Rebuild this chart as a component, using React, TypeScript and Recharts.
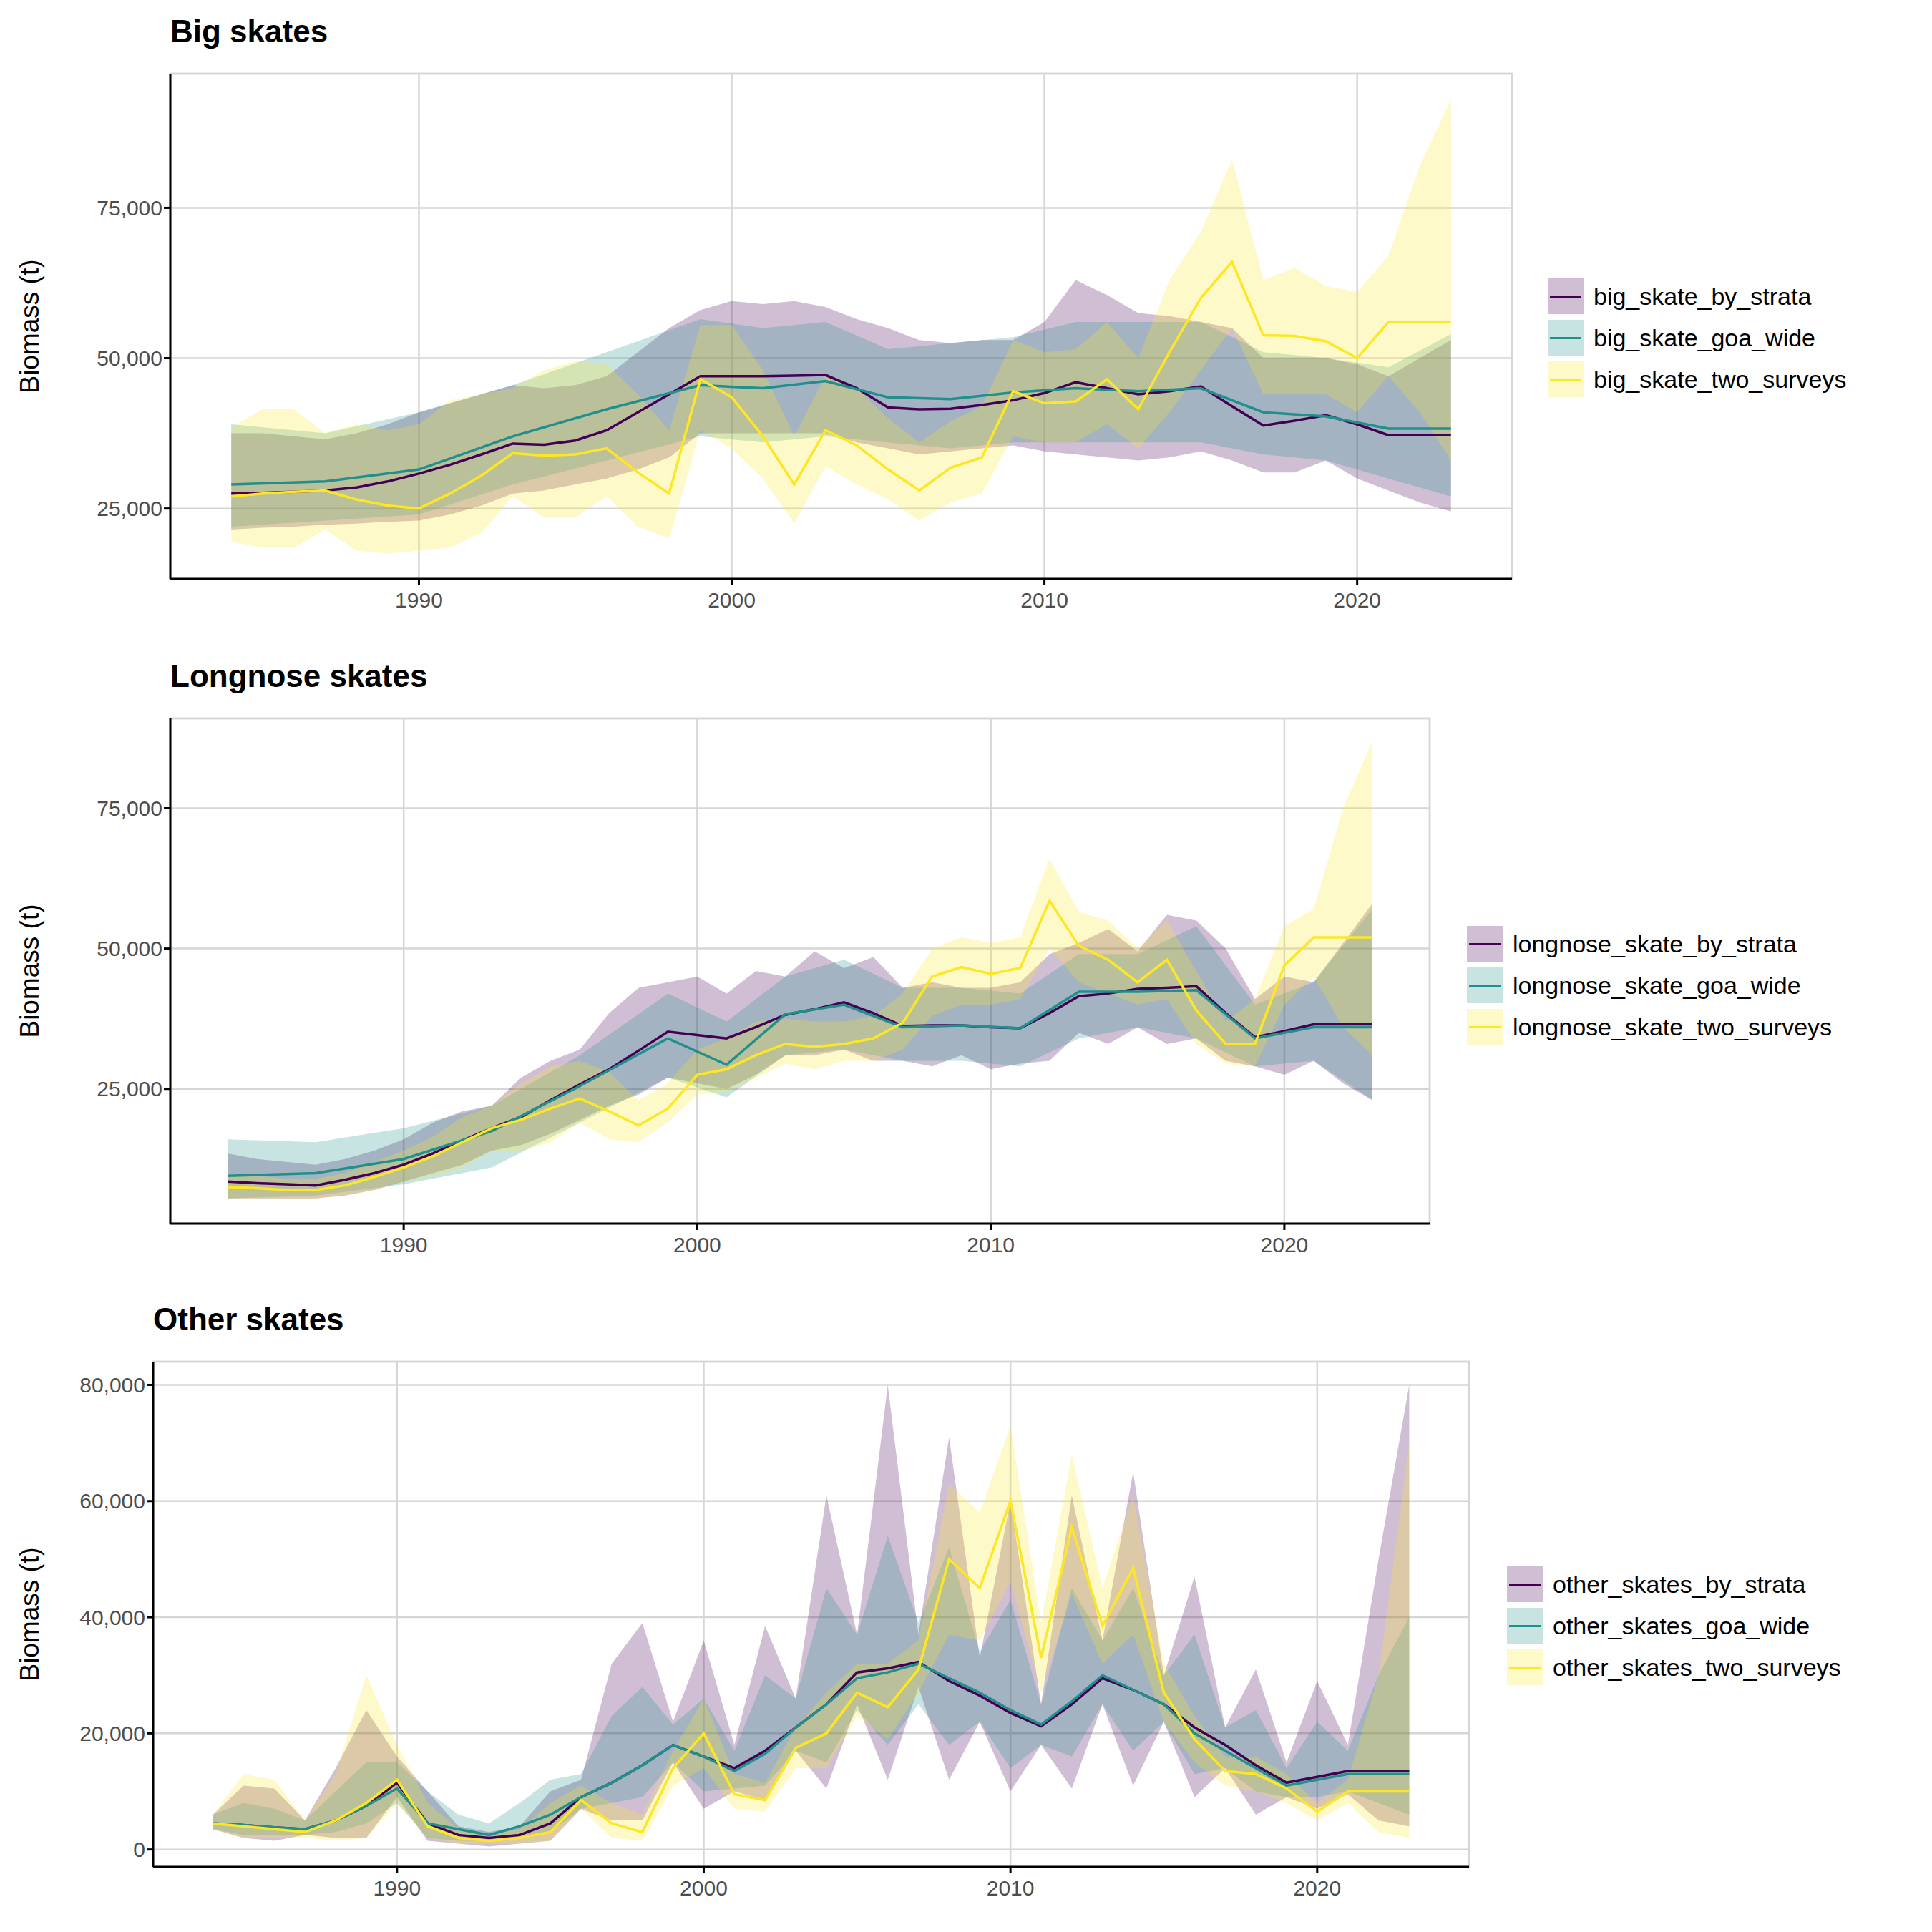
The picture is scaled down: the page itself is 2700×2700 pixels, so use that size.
import React from "react";
import { ComposedChart, Area, Line, XAxis, YAxis, CartesianGrid, ReferenceArea } from "recharts";

const years = Array.from({ length: 40 }, (_, i) => 1984 + i);
const surveyYears = [1984, 1987, 1990, 1993, 1996, 1999, 2001, 2003, 2005, 2007, 2009, 2011, 2013, 2015, 2017, 2019, 2021, 2023];

// Big skates (thousand t)
const bigStrata = [27.5,27.6,27.8,28,28.5,29.5,30.8,32.3,34,35.8,35.6,36.3,38,41,44,47,47,47,47.1,47.2,45,41.8,41.5,41.6,42.2,43,44.2,46,45,44,44.5,45.3,42,38.8,39.6,40.5,39,37.2,37.2,37.2];
const bigStrataLo = [21.5,21.8,22,22.3,22.5,22.8,23,24,25.5,27.5,28,29,30,31.5,33.5,37.5,37.5,37.5,37.5,37.5,36,35,34,34.5,35,35.5,34.5,34,33.5,33,33.5,34.5,33,31,31,33,30,28,26,24.5];
const bigStrataHi = [37.5,37.5,37,36.5,37.5,39,41,42.5,44,45.5,45,45.5,47,51,55,58,59.5,59,59.5,58.5,56.5,55,53,52.5,53,53,56,63,60.5,57.5,57,56,55,50,50,50,49,47,50,53];
const bigGoa = [29,29.5,31.5,37,41.5,45.5,45,46.2,43.5,43.2,44.3,45,44.5,45,41,40.3,38.3,38.3];
const bigGoaLo = [22,23,24,29,33,37,36,37,36,35,36,36,36,36,34,33,30,27];
const bigGoaHi = [39,37.5,41,45.5,51,56.5,55,56,51.5,52.5,53.5,56,56,56,51,50,48.5,54];
const bigTwo = [27,27.5,27.8,28,26.5,25.5,25,27.5,30.5,34.2,33.8,34,35,31,27.5,46.5,43.5,37,29,38,35.5,31.5,28,31.8,33.5,44.5,42.5,42.8,46.5,41.5,51,60,66,53.8,53.7,52.8,50,56,56,56];
const bigTwoLo = [19.5,18.5,18.5,21.5,18,17.5,18,18.5,21,27,23.5,23.5,27,22,20,38,35,30,22.5,32,29,26.5,23,26,27.5,37,36,36,39,35,41,48,55,44,44,44,41,47,41,33];
const bigTwoHi = [38.5,41.5,41.5,37.5,39,38,39,43,44,45,48,49.5,49,44,38,55.5,55.5,48,37,47,45,40,36,39.5,42,53,51,51.5,56,50,63,71,83,63,65,62,61,67,82,93];

// Longnose skates
const lnStrata = [8.5,8.2,8,7.8,8.8,10,11.5,13.5,15.8,18,20,23,25.8,28.5,31.8,35.2,34.6,34,36,38.2,39.2,40.4,38.5,36.2,36.3,36.3,36,35.8,38.5,41.5,42,42.8,43,43.3,38.5,34.2,35.3,36.5,36.5,36.5];
const lnStrataLo = [5.5,5.5,5.5,5.5,6,7,8.5,10,11.5,14,15,17,19.5,22,24,27,26,25,27.5,31,31,32,30,30,29,31,28.5,29.5,30,35,33,36,33,34,30,29,27.5,30,26,23];
const lnStrataHi = [13.5,12.5,12,11.5,12.5,14,16,19,21,22,27,30,32,38.5,43,44,45,42,46,45,49.5,46.5,48.5,43,44,43,43,44,49,51,53.5,49.5,56,55,50,41,45,44,51,58];
const lnGoa = [9.5,10,12.5,17.5,25.5,34,29.3,38.3,40,36,36.3,35.8,42.3,42.3,42.6,34,36,36];
const lnGoaLo = [5.5,6,8,11,19,27,23.5,31,32,30,30,29,34,36,34,29,30,23];
const lnGoaHi = [16,15.5,18,22,31,42,37,45,48,43,43,42,49,49,54,40,44,57];
const lnTwo = [7.5,7.3,7,7,7.8,9.3,11,13,15.5,18,19.5,21.5,23.3,21,18.5,21.5,27.5,28.5,31,33,32.5,33,34,36.8,45,46.7,45.5,46.5,58.5,50.5,48,44,48,39,33,33,47,52,52,52];
const lnTwoLo = [5.5,5.5,5.5,5.5,6,7,8.5,9.5,11,14,14,15.5,19,16,15.5,19,24,24.5,27,29.5,28.5,30,30,32,38,40,40,41,50,44,42,40,41,33,29.5,29,40,45,36,31];
const lnTwoHi = [10,9.5,9,9,10,12,14,16.5,20,22,26,29,30,28,23,26,32,34,37,37.5,37,37,38,42,50,52,51,52,66,56.5,55,50,55,46,37,41,54,57,75,87];

// Other skates
const otStrata = [4.5,4.2,3.8,3.5,5,7.5,11.5,4.5,2.5,2,2.5,4.5,9,11.5,14.5,18,16,14,17,21,25,30.5,31.2,32.3,29,26.5,23.5,21.2,25,29.5,27.5,25,21,18,14.5,11.5,12.5,13.5,13.5,13.5];
const otStrataLo = [3.5,2,1.5,2.5,2,2,9,1.5,1,0.5,1,1.5,7,5,5,15,7,10,8.5,17,10.5,25,12,28,12,22,10,18,10.5,25,11,22,9,14,6,9,7,9.5,5,4];
const otStrataHi = [6,11,10.5,5,14,24,16,10,4,3,4,10,12,32,39,22,36,18,38.5,26,61,37,80,37,71,33,60,25,61,36,65,30,47,21,31,15,29,18,50,80];
const otGoa = [4.5,4.2,3.8,3.5,5,7.5,10.5,4.5,3.5,2.5,4,6,9,11.5,14.5,18,16,13.5,16.5,21,25,29.5,30.5,32,29.5,27,24,21.5,25.5,30,27.5,25,20,17,14,11,12,13,13,13];
const otGoaLo = [3.5,2.5,2.5,2.5,3,4.5,8,2,1.5,1.5,2,3,7,8,9,15,10,10.5,11,17,15,24,18,25,18,22,14,18,16,25,17,22,13,14,10,9,9,10,8,6];
const otGoaHi = [6,8,7,5,10,15,15,10,6,4.5,8,12,13,23,28,21.5,26,17,30,26,45,37,54,39,52,34,43,25,45,36,45,30,37,21,24,14,22,17,30,40];
const otTwo = [4.5,4,3.5,3,5,8,12,4,2,1.5,2,3,8.5,4.5,3,14,20,9.5,8.5,17.5,20,27,24.5,31,50,45,60,33,55.5,38.5,48.5,27,19,13.5,13,10.5,6.5,10,10,10];
const otTwoLo = [3.5,2,2,2,1.5,2,8,2,1,1,1,1.5,7,2,1.5,11,14,7,6.5,14,14,23,19,27,37,36,46,27,44,32,37,22,15,11,10,8,5,8,3,2];
const otTwoHi = [6,13,12,5,13,30,18,8,3.5,2.5,3.5,8,11,8,6,17,26,13,11.5,21,27,32,32,36,63,58,73,39,68,45,61,32,23,16,16,13,8,12,30,70];

const PURPLE = "#440154";
const TEAL = "#21908C";
const YELLOW = "#FDE725";

const build = (xs: number[], v: number[], lo: number[], hi: number[]) =>
  xs.map((x, i) => ({ x, v: v[i] * 1000, r: [lo[i] * 1000, hi[i] * 1000] }));

const fmt = (n: number) => n.toLocaleString("en-US");

type Panel = {
  title: string; names: string[]; series: { xs: number[]; v: number[]; lo: number[]; hi: number[] }[];
  left: number; right: number; top: number; bottom: number; yDomain: [number, number]; yTicks: number[];
  legendX: number; legendY: number;
};

const panels: Panel[] = [
  {
    title: "Big skates", names: ["big_skate_by_strata", "big_skate_goa_wide", "big_skate_two_surveys"],
    series: [
      { xs: years, v: bigStrata, lo: bigStrataLo, hi: bigStrataHi },
      { xs: surveyYears, v: bigGoa, lo: bigGoaLo, hi: bigGoaHi },
      { xs: years, v: bigTwo, lo: bigTwoLo, hi: bigTwoHi },
    ],
    left: 238, right: 2113, top: 103, bottom: 809, yDomain: [13300, 97300], yTicks: [25000, 50000, 75000],
    legendX: 2163, legendY: 385,
  },
  {
    title: "Longnose skates", names: ["longnose_skate_by_strata", "longnose_skate_goa_wide", "longnose_skate_two_surveys"],
    series: [
      { xs: years, v: lnStrata, lo: lnStrataLo, hi: lnStrataHi },
      { xs: surveyYears, v: lnGoa, lo: lnGoaLo, hi: lnGoaHi },
      { xs: years, v: lnTwo, lo: lnTwoLo, hi: lnTwoHi },
    ],
    left: 238, right: 1998, top: 1004, bottom: 1710, yDomain: [1000, 91000], yTicks: [25000, 50000, 75000],
    legendX: 2050, legendY: 1290,
  },
  {
    title: "Other skates", names: ["other_skates_by_strata", "other_skates_goa_wide", "other_skates_two_surveys"],
    series: [
      { xs: years, v: otStrata, lo: otStrataLo, hi: otStrataHi },
      { xs: years, v: otGoa, lo: otGoaLo, hi: otGoaHi },
      { xs: years, v: otTwo, lo: otTwoLo, hi: otTwoHi },
    ],
    left: 214, right: 2053, top: 1903, bottom: 2609, yDomain: [-3000, 84000], yTicks: [0, 20000, 40000, 60000, 80000],
    legendX: 2106, legendY: 2185,
  },
];

const colors = [PURPLE, TEAL, YELLOW];
const FONT = "Liberation Sans, Arial, sans-serif";
const XD: [number, number] = [1982.05, 2024.95];

function PanelChart({ p }: { p: Panel }) {
  const mt = 10, xh = 70;
  const h = p.bottom - p.top + mt + xh;
  const datas = p.series.map((s) => build(s.xs, s.v, s.lo, s.hi));
  return (
    <div style={{ position: "absolute", left: 0, top: p.top - mt }}>
      <ComposedChart width={p.right + 10} height={h} margin={{ top: mt, right: 10, bottom: 0, left: 0 }}>
        <CartesianGrid stroke="#d6d6d6" strokeWidth={2.5} />
        <XAxis dataKey="x" type="number" domain={XD} ticks={[1990, 2000, 2010, 2020]} allowDataOverflow
          height={xh} stroke="#000" strokeWidth={3} tickSize={9} tick={{ fill: "#4d4d4d", fontSize: 30, fontFamily: FONT, dy: 8 }} />
        <YAxis type="number" domain={p.yDomain} ticks={p.yTicks} allowDataOverflow width={p.left}
          tickFormatter={fmt} stroke="#000" strokeWidth={3} tickSize={9} tick={{ fill: "#4d4d4d", fontSize: 30, fontFamily: FONT }} />
        <ReferenceArea x1={XD[0]} x2={XD[1]} y1={p.yDomain[0]} y2={p.yDomain[1]} fill="none" fillOpacity={0} stroke="#d6d6d6" strokeWidth={2.5} ifOverflow="visible" />
        {datas.map((d, i) => (
          <Area key={"a" + i} data={d} dataKey="r" type="linear" stroke="none" fill={colors[i]} fillOpacity={0.25} isAnimationActive={false} />
        ))}
        {datas.map((d, i) => (
          <Line key={"l" + i} data={d} dataKey="v" type="linear" stroke={colors[i]} strokeWidth={3.5} dot={false} isAnimationActive={false} />
        ))}
      </ComposedChart>
    </div>
  );
}

export default function App() {
  return (
    <div style={{ position: "absolute", left: 0, top: 0, width: 2700, height: 2700, background: "#fff", fontFamily: FONT }}>
      {panels.map((p, k) => (
        <React.Fragment key={k}>
          <PanelChart p={p} />
          <div style={{ position: "absolute", left: p.left, top: p.top - 84, fontSize: 44, fontWeight: "bold", color: "#000" }}>{p.title}</div>
          <div style={{ position: "absolute", left: 42, top: (p.top + p.bottom) / 2, fontSize: 37, color: "#000",
            transform: "translate(-50%, -50%) rotate(-90deg)", whiteSpace: "nowrap" }}>Biomass (t)</div>
          <div style={{ position: "absolute", left: p.legendX, top: p.legendY }}>
            {p.names.map((n, i) => (
              <div key={n} style={{ display: "flex", alignItems: "center", height: 58 }}>
                <div style={{ width: 50, height: 50, background: colors[i] + "40", position: "relative" }}>
                  <div style={{ position: "absolute", left: 3, right: 3, top: 23.5, height: 3.5, background: colors[i] }} />
                </div>
                <span style={{ marginLeft: 14, fontSize: 34, color: "#000" }}>{n}</span>
              </div>
            ))}
          </div>
        </React.Fragment>
      ))}
    </div>
  );
}
